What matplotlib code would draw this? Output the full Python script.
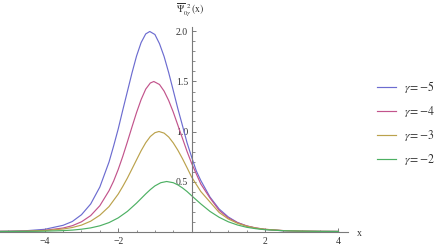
import matplotlib
matplotlib.use("Agg")
import matplotlib.pyplot as plt
from matplotlib.ticker import FixedLocator, NullFormatter

plt.rcParams['mathtext.fontset'] = 'stix'
plt.rcParams['font.family'] = ['Liberation Serif', 'DejaVu Serif']

# ---- data ----
labels = [r'$\gamma\!=\!-\!5$', r'$\gamma\!=\!-\!4$', r'$\gamma\!=\!-\!3$', r'$\gamma\!=\!-\!2$']

x_g5 = [-5.22, -5, -4.5, -4, -3.5, -3.25, -3, -2.75, -2.5, -2.25, -2.125, -2, -1.875, -1.75,
        -1.625, -1.5, -1.375, -1.25, -1.14, -1, -0.875, -0.75, -0.625, -0.5, -0.375, -0.25,
        -0.125, 0, 0.125, 0.25, 0.5, 0.75, 1, 1.25, 1.5, 1.75, 2, 2.5, 3, 3.5, 4]
y_g5 = [0.002, 0.003, 0.008, 0.022, 0.062, 0.10, 0.168, 0.275, 0.445, 0.695, 0.855, 1.025, 1.215,
        1.40, 1.585, 1.755, 1.89, 1.976, 2.0, 1.97, 1.878, 1.75, 1.589, 1.41, 1.228, 1.06,
        0.888, 0.745, 0.608, 0.51, 0.345, 0.225, 0.145, 0.09, 0.055, 0.033, 0.02, 0.007,
        0.003, 0.001, 0.0005]

x_g4 = [-5.22, -5, -4.5, -4, -3.5, -3.25, -3, -2.75, -2.5, -2.25, -2.125, -2, -1.875, -1.75,
        -1.625, -1.5, -1.375, -1.25, -1.125, -1.03, -0.875, -0.75, -0.625, -0.5, -0.375,
        -0.25, -0.125, 0, 0.25, 0.5, 0.75, 1, 1.25, 1.5, 1.75, 2, 2.5, 3, 3.5, 4]
y_g4 = [0.001, 0.0016, 0.0044, 0.012, 0.035, 0.058, 0.097, 0.159, 0.258, 0.408, 0.504, 0.62,
        0.752, 0.896, 1.045, 1.19, 1.32, 1.424, 1.485, 1.5, 1.47, 1.404, 1.31, 1.194, 1.063,
        0.932, 0.801, 0.682, 0.475, 0.335, 0.211, 0.136, 0.088, 0.056, 0.036, 0.022, 0.009,
        0.0035, 0.0014, 0.0006]

x_g3 = [-5.22, -5, -4.5, -4, -3.5, -3.25, -3, -2.75, -2.5, -2.25, -2, -1.875, -1.75, -1.625,
        -1.5, -1.375, -1.25, -1.125, -1.0, -0.89, -0.75, -0.625, -0.5, -0.375, -0.25, -0.125,
        0, 0.25, 0.5, 0.75, 1, 1.25, 1.5, 1.75, 2, 2.5, 3, 3.5, 4]
y_g3 = [0.001, 0.0014, 0.0036, 0.0095, 0.025, 0.040, 0.064, 0.103, 0.163, 0.249, 0.374, 0.451,
        0.534, 0.625, 0.717, 0.808, 0.888, 0.95, 0.988, 1.0, 0.984, 0.945, 0.886, 0.813,
        0.729, 0.638, 0.545, 0.40, 0.295, 0.19, 0.125, 0.082, 0.053, 0.034, 0.022, 0.009,
        0.0037, 0.0015, 0.0006]

x_g2 = [-5.22, -5, -4.5, -4, -3.5, -3.25, -3, -2.75, -2.5, -2.25, -2, -1.75, -1.5, -1.375,
        -1.25, -1.125, -1, -0.84, -0.68, -0.5, -0.375, -0.25, -0.125, 0, 0.25, 0.5, 0.75, 1,
        1.25, 1.5, 1.75, 2, 2.5, 3, 3.5, 4]
y_g2 = [0.0004, 0.0005, 0.0013, 0.0034, 0.0088, 0.014, 0.023, 0.036, 0.057, 0.089, 0.136,
        0.201, 0.284, 0.33, 0.376, 0.419, 0.456, 0.488, 0.5, 0.488, 0.466, 0.436, 0.40,
        0.358, 0.276, 0.201, 0.142, 0.097, 0.065, 0.042, 0.028, 0.018, 0.008, 0.0033,
        0.0014, 0.0006]

x_major = [-4, -2, 2, 4]
x_minor = [-5, -4.5, -3.5, -3, -2.5, -1.5, -1, -0.5, 0.5, 1, 1.5, 2.5, 3, 3.5]
y_major = [0.5, 1.0, 1.5, 2.0]
y_minor = [0.1, 0.2, 0.3, 0.4, 0.6, 0.7, 0.8, 0.9, 1.1, 1.2, 1.3, 1.4, 1.6, 1.7, 1.8, 1.9]

colors = ['#6c6cd0', '#c2548c', '#bba24c', '#4db063']

# ---- figure ----
fig = plt.figure(figsize=(4.41, 2.47), dpi=100)
ax = fig.add_axes([0, 0.5 / 247, 348 / 441, 219 / 247])
ax.set_xlim(-5.22, 4.26)
ax.set_ylim(-0.15, 2.04)

series = [(x_g5, y_g5), (x_g4, y_g4), (x_g3, y_g3), (x_g2, y_g2)]
handles = []
for (xs, ys), c, lab in zip(series, colors, labels):
    h, = ax.plot(xs, ys, color=c, lw=0.85, label=lab, solid_joinstyle='round')
    handles.append(h)

axis_col = '#7a7a7a'
for s in ['top', 'right']:
    ax.spines[s].set_visible(False)
ax.spines['left'].set_position(('data', 0))
ax.spines['bottom'].set_position(('data', 0))
ax.spines['left'].set_bounds(0, 2.04)
for s in ['left', 'bottom']:
    ax.spines[s].set_color(axis_col)
    ax.spines[s].set_linewidth(0.8)

ax.xaxis.set_major_locator(FixedLocator(x_major))
ax.xaxis.set_minor_locator(FixedLocator(x_minor))
ax.yaxis.set_major_locator(FixedLocator(y_major))
ax.yaxis.set_minor_locator(FixedLocator(y_minor))
ax.set_xticklabels(['\u22124', '\u22122', '2', '4'])
ax.set_yticklabels(['0.5', '1.0', '1.5', '2.0'])
ax.xaxis.set_minor_formatter(NullFormatter())
ax.yaxis.set_minor_formatter(NullFormatter())

ax.tick_params(which='major', direction='in', length=3.2, width=0.7, color=axis_col,
               labelsize=7, labelcolor='#333333')
ax.tick_params(which='minor', direction='in', length=1.8, width=0.6, color=axis_col)
ax.tick_params(axis='x', which='major', pad=4)
ax.tick_params(axis='y', which='major', pad=2.5)

fig.text(357 / 441, 1 - 233 / 247, 'x', fontsize=7, ha='left', va='center', color='#333333')
fig.text(176 / 441, 1 - 10 / 247, r'$\overline{\Psi}_{0\gamma}^{\;\;2}\,(\mathrm{x})$',
         fontsize=7, ha='left', va='center', color='#333333')

leg = fig.legend(handles=handles, loc='upper left',
                 bbox_to_anchor=(377 / 441, 1 - 79 / 247), bbox_transform=fig.transFigure,
                 frameon=False, fontsize=8.5, handlelength=1.6, handletextpad=0.65,
                 labelspacing=0.76, borderpad=0, borderaxespad=0)
for t in leg.get_texts():
    t.set_color('#333333')

fig.savefig('out.png', dpi=100)
